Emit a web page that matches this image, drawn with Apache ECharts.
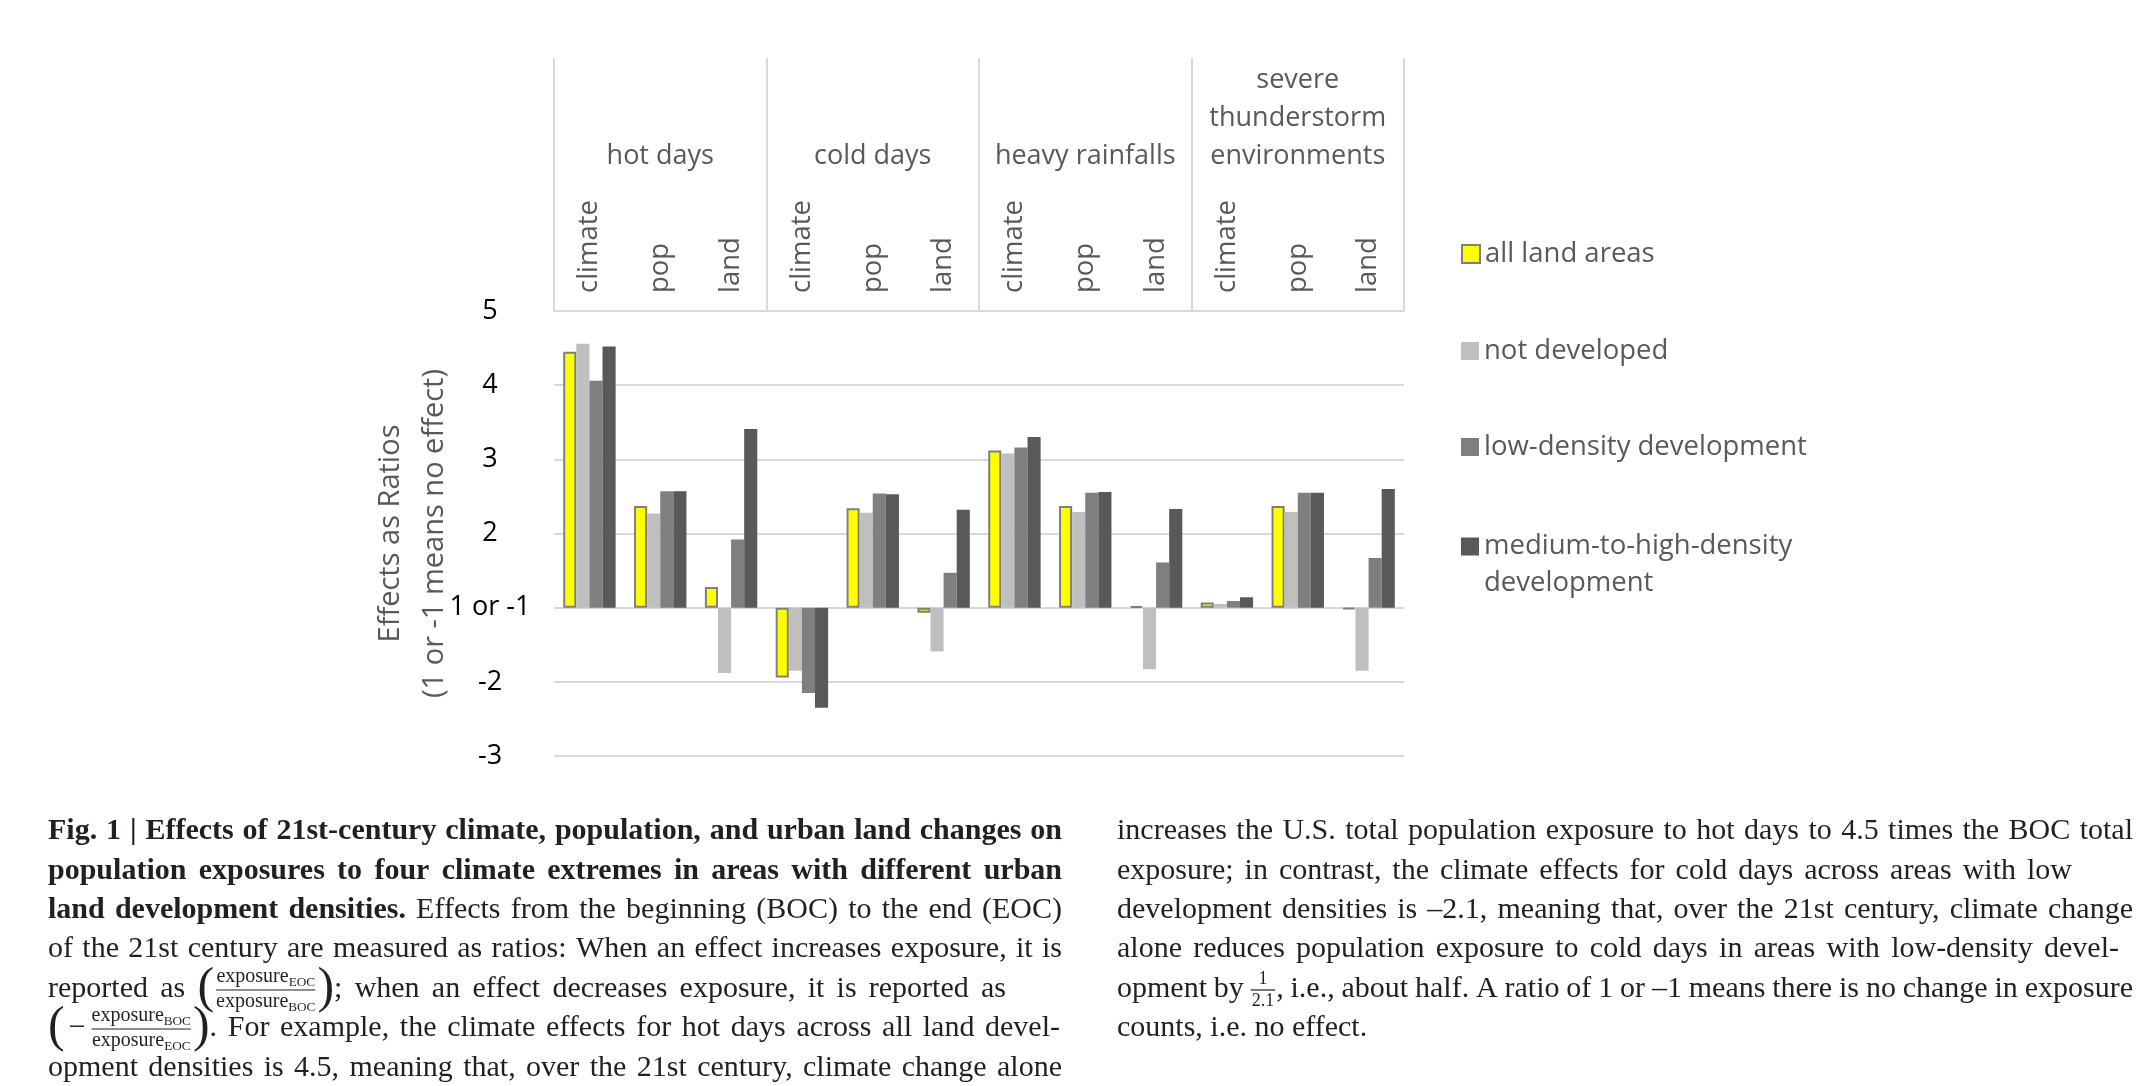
<!DOCTYPE html>
<html>
<head>
<meta charset="utf-8">
<script src="https://cdn.jsdelivr.net/npm/echarts@6/dist/echarts.min.js"></script>
<style>
html,body{margin:0;padding:0;background:#fff;}
#chart{width:2155px;height:1086px;}
</style>
</head>
<body>
<div id="chart"></div>
<script>
// ---------- DATA ----------
const groups = ['hot days', 'cold days', 'heavy rainfalls', 'severe\nthunderstorm\nenvironments'];
const subLabels = ['climate', 'pop', 'land'];
const categories = ['climate', 'pop', 'land', 'climate', 'pop', 'land', 'climate', 'pop', 'land', 'climate', 'pop', 'land'];
const seriesNames = ['all land areas', 'not developed', 'low-density development', 'medium-to-high-density development'];
// effects as ratios (1 or -1 = no effect)
const allLandAreas = [4.45, 2.37, 1.28, -1.94, 2.34, -1.07, 3.12, 2.37, 1.02, 1.07, 2.37, -1.02];
const notDeveloped = [4.56, 2.27, -1.88, -1.85, 2.28, -1.59, 3.08, 2.29, -1.83, 1.05, 2.29, -1.85];
const lowDensity = [4.06, 2.57, 1.92, -2.15, 2.54, 1.47, 3.16, 2.55, 1.61, 1.09, 2.55, 1.67];
const mediumHighDensity = [4.52, 2.57, 3.41, -2.35, 2.53, 2.32, 3.30, 2.56, 2.33, 1.14, 2.55, 2.60];
const yTickLabels = ['-3', '-2', '1 or -1', '2', '3', '4', '5'];
const seriesColors = ['#FFFF00', '#BFBFBF', '#7F7F7F', '#595959'];

// ratio -> axis position (1 and -1 collapse to 0)
function toPos(v) { return v >= 1 ? +(v - 1).toFixed(3) : +(v + 1).toFixed(3); }

const SANS = '"Open Sans", "Liberation Sans", sans-serif';
const SERIF = '"Liberation Serif", "DejaVu Serif", serif';
const INK = '#231f20';

const chart = echarts.init(document.getElementById('chart'), null, {renderer: 'canvas'});

const allSeriesData = [allLandAreas, notDeveloped, lowDensity, mediumHighDensity];
const series = allSeriesData.map((arr, i) => ({
  name: seriesNames[i],
  type: 'bar',
  xAxisIndex: 0,
  yAxisIndex: 0,
  barGap: '0%',
  barCategoryGap: '26%',
  data: arr.map(toPos),
  itemStyle: i === 0 ? {color: seriesColors[i], borderColor: '#7f7f7f', borderWidth: 2}
                     : {color: seriesColors[i], borderWidth: 0}
}));

// legends (one per item, stacked at right)
const legendCenters = [254, 351, 447, 537];
const legends = seriesNames.map((n, i) => {
  const last = i === 3;
  return {
    data: [n],
    orient: 'vertical',
    left: 1461,
    top: last ? legendCenters[i] - 9 : legendCenters[i] - 18.5,
    padding: 0,
    itemWidth: 18,
    itemHeight: last ? 55 : 18,
    icon: last ? 'path://M0,0L18,0L18,18L0,18Z M0,55L0.01,55L0,55Z' : 'rect',
    selectedMode: false,
    formatter: last ? () => 'medium-to-high-density\ndevelopment' : undefined,
    textStyle: {fontSize: 27.5, color: '#595959', fontFamily: SANS, lineHeight: 37}
  };
});

// ---------- caption ----------
const mctx = document.createElement('canvas').getContext('2d');
function fontStr(size, bold) { return (bold ? 'bold ' : '') + size + 'px ' + SERIF; }
function tw(text, size, bold) { mctx.font = fontStr(size, bold); return mctx.measureText(text).width; }
const CF = 30;
const elements = [];
function addText(x, y, text, size, bold) {
  elements.push({type: 'text', x: x, y: y, silent: true,
    style: {text: text, font: fontStr(size, bold), fill: INK, verticalAlign: 'middle', align: 'left'}});
  return tw(text, size, bold);
}
function addLine(x1, y1, x2, y2) {
  elements.push({type: 'line', silent: true, shape: {x1, y1, x2, y2}, style: {stroke: INK, lineWidth: 1.2}});
}
const FS = 20;
function termWidth(base, sub, size) { return tw(base, size, false) + tw(sub, size * 0.66, false); }
function subTerm(x, y, base, sub, size) {
  const w1 = tw(base, size, false);
  addText(x, y, base, size, false);
  addText(x + w1, y + size * 0.3, sub, size * 0.66, false);
}
function bigFracWidth(tok) {
  const w = Math.max(termWidth(tok.num[0], tok.num[1], FS), termWidth(tok.den[0], tok.den[1], FS));
  return tw('(', 50) * 2 + 4 + (tok.neg ? tw('\u2212', CF) + 10 : 0) + w;
}
function bigFrac(x, y, tok) {
  let cx = x;
  cx += addText(cx, y, '(', 50, false) + 2;
  if (tok.neg) { cx += addText(cx + 2, y, '\u2212', CF, false) + 8; }
  const wn = termWidth(tok.num[0], tok.num[1], FS), wd = termWidth(tok.den[0], tok.den[1], FS);
  const w = Math.max(wn, wd);
  subTerm(cx + (w - wn) / 2, y - 12, tok.num[0], tok.num[1], FS);
  subTerm(cx + (w - wd) / 2, y + 13, tok.den[0], tok.den[1], FS);
  addLine(cx, y + 1, cx + w, y + 1);
  cx += w + 2;
  cx += addText(cx, y, ')', 50, false);
  return cx - x;
}
const SFS = 18;
function smallFracWidth(tok) { return Math.max(tw(tok.num, SFS), tw(tok.den, SFS)) + 3; }
function smallFrac(x, y, tok) {
  const wn = tw(tok.num, SFS), wd = tw(tok.den, SFS);
  const w = Math.max(wn, wd) + 2;
  addText(x + (w - wn) / 2, y - 10, tok.num, SFS, false);
  addText(x + (w - wd) / 2, y + 12, tok.den, SFS, false);
  addLine(x, y + 1, x + w, y + 1);
  return w + 1;
}
function tokenize(segs) {
  const toks = [];
  segs.forEach(s => {
    if (s.frac || s.sfrac) { toks.push(s); return; }
    s.t.split(' ').forEach((part, j) => {
      if (j > 0) toks.push({space: true});
      if (part) toks.push({word: part, b: !!s.b});
    });
  });
  return toks;
}
function tokWidth(t) {
  if (t.frac) return bigFracWidth(t);
  if (t.sfrac) return smallFracWidth(t);
  if (t.space) return tw(' ', CF);
  return tw(t.word, CF, t.b);
}
function buildLine(x, y, segs, target) {
  const toks = tokenize(segs);
  let natural = 0, nSp = 0;
  toks.forEach(t => { natural += tokWidth(t); if (t.space) nSp++; });
  const extra = (target && nSp) ? (target - x - natural) / nSp : 0;
  let cx = x;
  toks.forEach(t => {
    if (t.frac) cx += bigFrac(cx, y, t);
    else if (t.sfrac) cx += smallFrac(cx, y, t);
    else if (t.space) cx += tw(' ', CF) + extra;
    else cx += addText(cx, y, t.word, CF, t.b);
  });
}
const LEFT_X = 48, LEFT_END = 1062, RIGHT_X = 1117, RIGHT_END = 2133;
const capLeft = [
  [[{t: 'Fig. 1 | Effects of 21st-century climate, population, and urban land changes on', b: true}], LEFT_END],
  [[{t: 'population exposures to four climate extremes in areas with different urban', b: true}], LEFT_END],
  [[{t: 'land development densities.', b: true}, {t: ' Effects from the beginning (BOC) to the end (EOC)'}], LEFT_END],
  [[{t: 'of the 21st century are measured as ratios: When an effect increases exposure, it is'}], LEFT_END],
  [[{t: 'reported as '}, {frac: true, num: ['exposure', 'EOC'], den: ['exposure', 'BOC']}, {t: '; when an effect decreases exposure, it is reported as'}], 1006],
  [[{frac: true, neg: true, num: ['exposure', 'BOC'], den: ['exposure', 'EOC']}, {t: '. For example, the climate effects for hot days across all land devel-'}], LEFT_END],
  [[{t: 'opment densities is 4.5, meaning that, over the 21st century, climate change alone'}], LEFT_END]
];
const capRight = [
  [[{t: 'increases the U.S. total population exposure to hot days to 4.5 times the BOC total'}], RIGHT_END],
  [[{t: 'exposure; in contrast, the climate effects for cold days across areas with low'}], 2072],
  [[{t: 'development densities is \u20132.1, meaning that, over the 21st century, climate change'}], RIGHT_END],
  [[{t: 'alone reduces population exposure to cold days in areas with low-density devel-'}], 2119],
  [[{t: 'opment by '}, {sfrac: true, num: '1', den: '2.1'}, {t: ', i.e., about half. A ratio of 1 or \u20131 means there is no change in exposure'}], RIGHT_END],
  [[{t: 'counts, i.e. no effect.'}], 0]
];
const lineYs = [831, 871, 910, 949, 989, 1028, 1068];
capLeft.forEach((l, i) => buildLine(LEFT_X, lineYs[i], l[0], l[1]));
capRight.forEach((l, i) => buildLine(RIGHT_X, lineYs[i], l[0], l[1]));

// ---------- option ----------
const option = {
  animation: false,
  backgroundColor: '#ffffff',
  grid: {left: 554, right: 751, top: 311, bottom: 330, containLabel: false},
  legend: legends,
  xAxis: [
    {
      type: 'category',
      position: 'top',
      data: categories,
      axisLine: {show: false},
      axisTick: {show: false},
      axisLabel: {interval: 0, rotate: 90, margin: 18, fontSize: 27.5, color: '#595959', fontFamily: SANS}
    },
    {
      type: 'category',
      position: 'top',
      data: groups,
      axisLine: {show: true, lineStyle: {color: '#d9d9d9', width: 2}},
      axisTick: {show: true, interval: 0, length: 253, lineStyle: {color: '#d9d9d9', width: 2}},
      axisLabel: {interval: 0, margin: 136, fontSize: 27, lineHeight: 38, color: '#595959', fontFamily: SANS}
    }
  ],
  yAxis: {
    type: 'value',
    min: -2,
    max: 4,
    interval: 1,
    axisLine: {show: false},
    axisTick: {show: false},
    splitLine: {lineStyle: {color: '#d9d9d9', width: 2}},
    axisLabel: {
      margin: 64, align: 'center', fontSize: 27, color: '#000', fontFamily: SANS,
      formatter: v => yTickLabels[Math.round(v) + 2]
    },
    name: 'Effects as Ratios\n(1 or -1 means no effect)',
    nameLocation: 'middle',
    nameRotate: 90,
    nameGap: 97,
    nameMoveOverlap: false,
    nameTextStyle: {fontSize: 29, lineHeight: 44, color: '#595959', fontFamily: SANS}
  },
  series: series,
  graphic: {elements: elements}
};
chart.setOption(option);
</script>
</body>
</html>
